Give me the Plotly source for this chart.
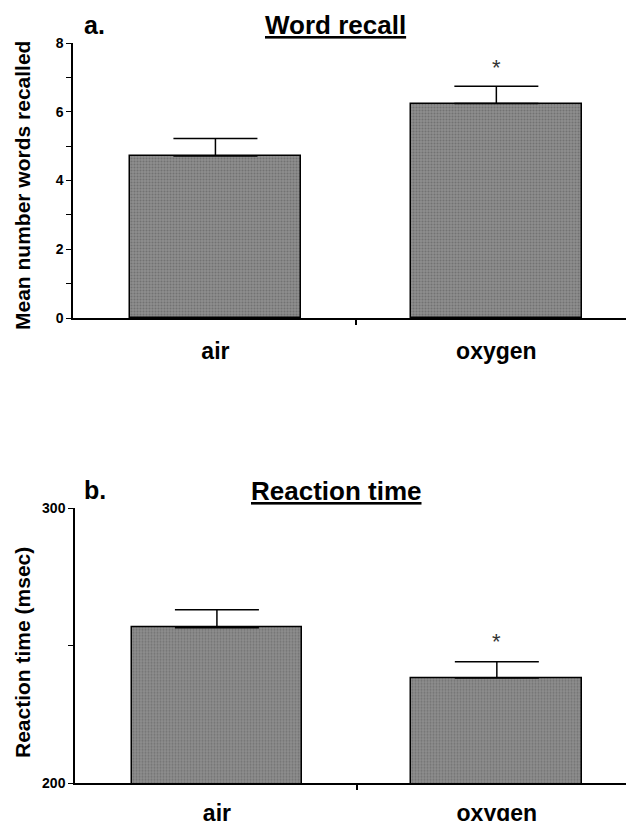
import plotly.graph_objects as go

categories = ["air", "oxygen"]
recall_means = [4.71, 6.24]
recall_sem = [0.51, 0.50]
rt_means = [256.6, 238.3]
rt_sem = [6.5, 5.9]
recall_ticks = [0, 1, 2, 3, 4, 5, 6, 7, 8]
recall_ticktext = ["0", "", "2", "", "4", "", "6", "", "8"]
rt_ticks = [200, 250, 300]
rt_ticktext = ["200", "", "300"]

OFF = 8  # page body margin
W, H = 634 - OFF, 821 - OFF
FONT = "Liberation Sans"
xpos = list(range(len(categories)))

def py(px):
    return 1 - (px - OFF) / H

def pxx(px):
    return (px - OFF) / W

fig = go.Figure()

bar_style = dict(
    color="#7c7c7c",
    line=dict(color="black", width=1.5),
    pattern=dict(shape=".", fgcolor="#555555", bgcolor="#8e8e8e", size=3, solidity=0.4),
)

fig.add_trace(go.Bar(
    x=xpos, y=recall_means, width=0.61, marker=bar_style,
    error_y=dict(type="data", array=recall_sem, arrayminus=[0, 0], symmetric=False,
                 color="black", thickness=1.5, width=42),
    xaxis="x", yaxis="y", showlegend=False,
))
fig.add_trace(go.Bar(
    x=xpos, y=rt_means, width=0.61, marker=bar_style,
    error_y=dict(type="data", array=rt_sem, arrayminus=[0, 0], symmetric=False,
                 color="black", thickness=1.5, width=42),
    xaxis="x2", yaxis="y2", showlegend=False,
))

xcommon = dict(
    tickvals=xpos, ticktext=categories, ticks="", showgrid=False, zeroline=False,
    showline=True, linecolor="black", linewidth=1.5, range=[-0.507, 1.49],
    tickfont=dict(family=FONT, size=23, color="black", weight="bold"),
    automargin=False,
    minor=dict(tickvals=[0.5], ticks="outside", ticklen=5, tickcolor="black", tickwidth=1.5),
)
ycommon = dict(
    showgrid=False, zeroline=False, showline=True, linecolor="black", linewidth=1.5,
    ticks="outside", ticklen=5, tickcolor="black", tickwidth=1.2, automargin=False,
    tickfont=dict(family=FONT, size=14, color="black", weight="bold"),
)

fig.update_layout(
    width=W, height=H, margin=dict(l=0, r=0, t=0, b=0),
    plot_bgcolor="white", paper_bgcolor="white", bargap=0,
    xaxis=dict(domain=[pxx(73), 1], anchor="y", ticklabelstandoff=12, **xcommon),
    yaxis=dict(domain=[py(318), py(43)], anchor="x", range=[0, 8],
               tickvals=recall_ticks, ticktext=recall_ticktext, **ycommon),
    xaxis2=dict(domain=[pxx(75), 1], anchor="y2", ticklabelstandoff=8, **xcommon),
    yaxis2=dict(domain=[py(783.3), py(508.3)], anchor="x2", range=[200, 300],
                tickvals=rt_ticks, ticktext=rt_ticktext, **ycommon),
)

ann = []
ann.append(dict(text="a.", x=pxx(82), y=py(25), xref="paper", yref="paper",
                xanchor="left", yanchor="middle", showarrow=False,
                font=dict(family=FONT, size=25, color="black", weight="bold")))
ann.append(dict(text="<u>Word recall</u>", x=pxx(335), y=py(25), xref="paper", yref="paper",
                xanchor="center", yanchor="middle", showarrow=False,
                font=dict(family=FONT, size=26, color="black", weight="bold")))
ann.append(dict(text="b.", x=pxx(82), y=py(490), xref="paper", yref="paper",
                xanchor="left", yanchor="middle", showarrow=False,
                font=dict(family=FONT, size=25, color="black", weight="bold")))
ann.append(dict(text="<u>Reaction time</u>", x=pxx(336), y=py(491), xref="paper", yref="paper",
                xanchor="center", yanchor="middle", showarrow=False,
                font=dict(family=FONT, size=26, color="black", weight="bold")))
ann.append(dict(text="Mean number words recalled", x=pxx(22), y=py(186), xref="paper", yref="paper",
                xanchor="center", yanchor="middle", textangle=-90, showarrow=False,
                font=dict(family=FONT, size=21, color="black", weight="bold")))
ann.append(dict(text="Reaction time (msec)", x=pxx(22), y=py(653), xref="paper", yref="paper",
                xanchor="center", yanchor="middle", textangle=-90, showarrow=False,
                font=dict(family=FONT, size=21, color="black", weight="bold")))
ann.append(dict(text="*", x=xpos[1], y=recall_means[1] + recall_sem[1], xref="x", yref="y",
                xanchor="center", yanchor="bottom", yshift=4, showarrow=False,
                font=dict(family=FONT, size=22, color="#333")))
ann.append(dict(text="*", x=xpos[1], y=rt_means[1] + rt_sem[1], xref="x2", yref="y2",
                xanchor="center", yanchor="bottom", yshift=6, showarrow=False,
                font=dict(family=FONT, size=22, color="#333")))
fig.update_layout(annotations=ann)

fig.write_html("out.html")
